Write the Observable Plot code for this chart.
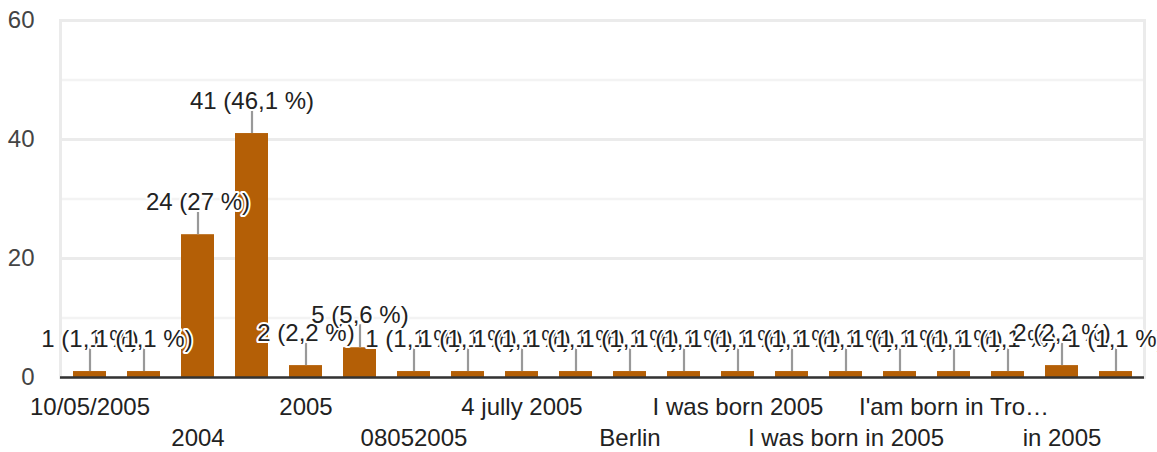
<!DOCTYPE html>
<html>
<head>
<meta charset="utf-8">
<script src="https://cdn.jsdelivr.net/npm/d3@7"></script>
<script src="https://cdn.jsdelivr.net/npm/@observablehq/plot@0.6"></script>
<style>
  html, body { margin: 0; padding: 0; background: #fff; }
  svg { display: block; }
</style>
</head>
<body>
<div id="chart"></div>
<script>
const categories = [
  "10/05/2005", "1/5/2005", "2004", "2006", "2005",
  "2003", "08052005", "10 may 2005", "4 jully 2005", "2005 year",
  "Berlin", "I was born in 2004", "I was born 2005", "I was born in 2006", "I was born in 2005",
  "Berlin 2005", "I'am born in Tro…", "born in 2005", "in 2005", "May 2005"
];
const counts = [1, 1, 24, 41, 2, 5, 1, 1, 1, 1, 1, 1, 1, 1, 1, 1, 1, 1, 2, 1];
const yTicks = [0, 20, 40, 60];
const majorGrid = [20, 40, 60];
const minorGrid = [10, 30, 50];

const total = d3.sum(counts);
const fmtPct = v => {
  const p = Math.round(v / total * 1000) / 10;
  return String(p).replace(".", ",");
};
const data = categories.map((c, i) => ({
  cat: c,
  count: counts[i],
  label: `${counts[i]} (${fmtPct(counts[i])} %)`
}));
const row1 = categories.filter((d, i) => i % 4 === 0);
const row2 = categories.filter((d, i) => i % 4 === 2);

const chart = Plot.plot({
  width: 1157,
  height: 452,
  marginLeft: 60,
  marginRight: 13,
  marginTop: 20,
  marginBottom: 75,
  style: {fontFamily: "'Liberation Sans', Arial, sans-serif", fontSize: "24px", background: "#fff"},
  x: {domain: categories, paddingInner: 0.39, paddingOuter: 0.195, axis: null},
  y: {domain: [0, 60], axis: null},
  marks: [
    Plot.ruleY(minorGrid, {stroke: "#f3f3f3", strokeWidth: 2.5}),
    Plot.ruleY(majorGrid, {stroke: "#ebebeb", strokeWidth: 3}),
    Plot.frame({stroke: "#ebebeb", strokeWidth: 3}),
    Plot.barY(data, {x: "cat", y: "count", fill: "#b45f06"}),
    Plot.ruleY([0], {stroke: "#333", strokeWidth: 2.5}),
    Plot.ruleX(data, {x: "cat", y1: "count", y2: "count", insetBottom: 23, stroke: "#999", strokeWidth: 2.2}),
    Plot.text(data, {x: "cat", y: "count", text: "label", dy: -25, lineAnchor: "bottom", fill: "#222", stroke: "#fff", strokeWidth: 4, fontSize: 24}),
    Plot.axisY({ticks: yTicks, tickSize: 0, tickPadding: 26, color: "#444", fontSize: 24, label: null}),
    Plot.axisX({ticks: row1, tickSize: 0, tickPadding: 20, color: "#222", fontSize: 24, label: null}),
    Plot.axisX({ticks: row2, tickSize: 0, tickPadding: 51, color: "#222", fontSize: 24, label: null})
  ]
});
document.getElementById("chart").appendChild(chart);
</script>
</body>
</html>
